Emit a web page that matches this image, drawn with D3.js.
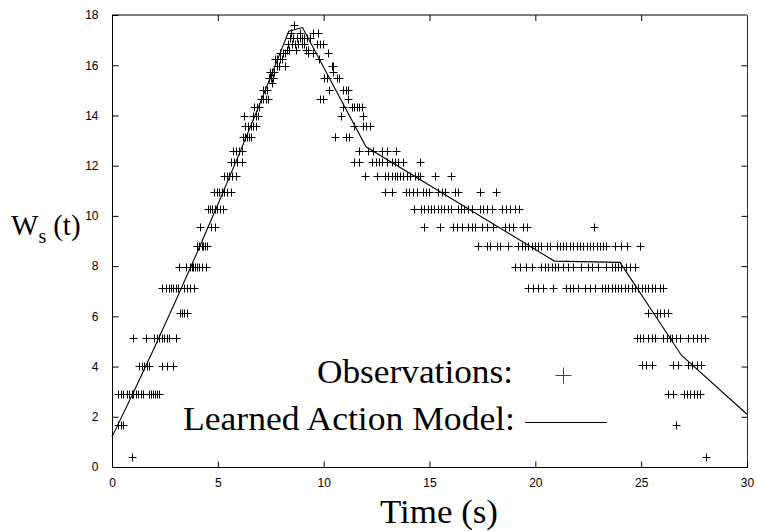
<!DOCTYPE html>
<html>
<head>
<meta charset="utf-8">
<script src="https://cdn.jsdelivr.net/npm/d3@7"></script>
<style>
  html, body { margin: 0; padding: 0; background: #fff; }
  svg { display: block; }
</style>
</head>
<body>
<svg id="chart" width="757" height="531"></svg>
<script>
// Axis ticks
const xTicks = [0, 5, 10, 15, 20, 25, 30];
const yTicks = [0, 2, 4, 6, 8, 10, 12, 14, 16, 18];

// Learned action model (piecewise-linear) : time (s) and W_s(t)
const modelTime = [0, 1, 2, 3, 4, 5, 6, 7, 8, 8.35, 9.0, 12.0, 20.9, 24.0, 26.9, 30];
const modelWs   = [1.2, 2.95, 4.75, 6.6, 8.5, 10.45, 12.45, 14.5, 16.6, 17.35, 17.5, 12.75, 8.2, 8.15, 4.45, 2.1];

// Observations, grouped by observed W_s level; obsTimes[i] holds the times at obsLevels[i]
const obsLevels = [
  0.38, 1.67, 2.9, 4.03, 5.12, 6.15, 7.12, 7.98, 8.8, 9.57, 10.27, 10.94, 11.59,
  12.13, 12.6, 13.15, 13.58, 13.98, 14.34, 14.67, 15.0, 15.28, 15.5, 15.72, 15.95,
  16.24, 16.47, 16.62, 16.85, 17.07, 17.3, 17.6,
  0.38, 1.67, 2.9, 4.05, 5.12, 6.15, 7.12, 7.98, 8.8, 9.57
];
const obsTimes = [
  [0.96],
  [0.30, 0.41, 0.54],
  [0.30, 0.41, 0.54, 0.72, 0.82, 0.93, 1.01, 1.12, 1.24, 1.35, 1.48, 1.76, 1.83, 1.95, 2.03, 2.14, 2.24],
  [1.29, 1.40, 1.51, 1.64, 1.76, 2.35, 2.58, 2.90],
  [0.98, 1.59, 1.98, 2.11, 2.24, 2.35, 2.46, 2.58, 2.71, 3.02],
  [3.21, 3.32, 3.42, 3.53],
  [2.38, 2.54, 2.69, 2.79, 2.90, 3.02, 3.13, 3.40, 3.56, 3.68, 3.89],
  [3.17, 3.50, 3.68, 3.76, 3.84, 3.92, 4.00, 4.13, 4.27, 4.44],
  [4.00, 4.13, 4.24, 4.31, 4.39, 4.50],
  [4.16, 4.68, 4.87],
  [4.52, 4.63, 4.74, 4.87, 4.98, 5.10, 5.26,
   14.28, 14.60, 14.75, 14.91, 15.07, 15.23, 15.38, 15.54, 15.70, 15.86, 16.01, 16.33, 16.49, 16.64,
   16.80, 16.99, 17.38, 17.54, 17.70, 17.94, 18.41, 18.61, 18.80, 19.04, 19.24],
  [4.83, 4.94, 5.07, 5.18, 5.29, 5.42, 5.61,
   12.90, 13.21, 13.89, 14.05, 14.20, 14.39, 14.68, 14.83, 14.99, 15.42, 15.57, 15.73, 16.20, 16.36, 17.38, 18.14],
  [5.29, 5.42, 5.54, 5.65, 5.86,
   11.95, 12.50, 12.90, 13.05, 13.21, 13.37, 13.48, 13.60, 13.76, 13.92, 14.08, 14.31, 14.47, 14.55, 15.26, 16.01],
  [5.62, 5.78, 5.89, 6.12,
   11.43, 11.68, 12.27, 12.47, 12.63, 12.74, 12.97, 13.21, 13.37, 13.53, 13.76, 14.55],
  [5.73, 5.86, 6.01, 6.12, 11.68, 12.11, 12.35, 12.74, 13.01, 13.40],
  [6.17, 6.28, 6.36, 6.47, 6.55, 10.53, 11.05, 11.21],
  [6.28, 6.44, 6.55, 6.68, 6.79, 11.45, 11.84, 12.00, 12.19],
  [6.24, 6.68, 6.80, 6.91, 10.80, 11.87],
  [6.71, 6.83, 6.96, 10.93, 11.32, 11.45, 11.56, 11.68, 11.79],
  [7.04, 7.15, 7.26, 7.35, 9.83, 9.95, 11.13],
  [7.12, 7.23, 7.34, 10.27, 10.90, 11.05, 11.16],
  [7.57],
  [7.43, 7.51, 7.62, 10.02, 10.14, 10.61, 10.74],
  [7.46, 7.54, 7.65, 10.42],
  [7.78, 7.89, 8.17, 10.38, 10.46],
  [7.70, 7.81, 7.94, 8.05, 9.79],
  [7.94, 8.06, 8.17, 9.27, 9.51, 10.22],
  [8.25, 8.36, 8.69, 9.16, 9.27],
  [8.33, 8.49, 8.64, 8.80, 8.96, 9.07, 9.67, 9.83, 9.98],
  [8.41, 8.57, 8.72, 8.88, 8.98, 9.09, 9.20, 9.35],
  [8.46, 8.88, 9.51, 9.75],
  [8.60],
  [28.06],
  [26.64],
  [26.28, 26.51, 27.02, 27.17, 27.33, 27.49, 27.65, 27.77],
  [25.02, 25.25, 25.49, 26.51, 26.75, 27.22, 27.38, 27.62, 27.85],
  [24.78, 24.94, 25.10, 25.33, 25.49, 25.65, 26.04, 26.20, 26.36, 26.48, 26.64, 26.83,
   27.22, 27.46, 27.62, 27.85, 28.01],
  [25.33, 25.76, 25.91, 26.07, 26.28],
  [19.66, 19.90, 20.14, 20.37, 20.84, 21.47, 21.63, 21.79, 22.03, 22.34, 22.58, 22.81,
   23.13, 23.29, 23.44, 23.60, 23.76, 23.92, 24.07, 24.23, 24.39, 24.55, 24.70, 24.86,
   25.02, 25.18, 25.33, 25.49, 25.65, 25.88, 26.04],
  [19.04, 19.27, 19.55, 19.82, 20.29, 20.45, 20.61, 20.77, 20.92, 21.08, 21.32, 21.55,
   21.79, 22.18, 22.50, 22.66, 22.97, 23.36, 23.60, 23.76, 23.92, 24.07, 24.28, 24.47, 24.70],
  [17.27, 17.70, 17.86, 18.17, 18.33, 18.72, 19.19, 19.35, 19.51, 19.67, 19.82, 19.98,
   20.14, 20.29, 20.53, 20.69, 21.00, 21.16, 21.32, 21.47, 21.63, 21.79, 21.95, 22.10,
   22.26, 22.42, 22.58, 22.73, 22.89, 23.05, 23.21, 23.36, 23.76, 24.07, 24.31, 24.94],
  [14.75, 15.49, 16.09, 16.28, 16.52, 16.83, 16.99, 17.15, 17.46, 17.70, 18.01, 18.56,
   18.77, 18.96, 19.43, 19.62, 22.77]
];

const legendLabels = ["Observations:", "Learned Action Model:"];

const svg = d3.select("#chart");
const plotLeft = 112, plotRight = 747, plotTop = 15, plotBottom = 467;

const x = d3.scaleLinear().domain([0, 30]).range([plotLeft, plotRight]);
const y = d3.scaleLinear().domain([0, 18]).range([plotBottom, plotTop]);

const tickFont = "'Liberation Sans', Arial, Helvetica, sans-serif";
const serif = "'Liberation Serif', 'Times New Roman', Times, serif";
const tickLen = 6;

// Frame
const frame = svg.append("g").attr("fill", "none").attr("stroke", "#000").attr("stroke-width", 1);
frame.append("line").attr("x1", plotLeft).attr("x2", plotRight).attr("y1", plotTop).attr("y2", plotTop)
  .attr("stroke", "#555").attr("stroke-width", 1.4);
frame.append("line").attr("x1", plotLeft).attr("x2", plotRight).attr("y1", plotBottom + 0.5).attr("y2", plotBottom + 0.5);
frame.append("line").attr("x1", plotLeft + 0.5).attr("x2", plotLeft + 0.5).attr("y1", plotTop).attr("y2", plotBottom + 1);
frame.append("line").attr("x1", plotRight + 0.5).attr("x2", plotRight + 0.5).attr("y1", plotTop).attr("y2", plotBottom + 1)
  .attr("stroke", "#333");

// Bottom axis (ticks point inward, mirrored on top)
const xAxis = d3.axisBottom(x).tickValues(xTicks).tickFormat(d3.format("d"))
  .tickSizeInner(-tickLen).tickSizeOuter(0).tickPadding(11);
const gx = svg.append("g").attr("transform", `translate(0,${plotBottom + 0.5})`).call(xAxis);
gx.select(".domain").remove();
gx.selectAll("text").attr("font-family", tickFont).attr("font-size", 12).attr("fill", "#000");

const gxTop = svg.append("g").attr("transform", `translate(0,${plotTop})`)
  .call(d3.axisTop(x).tickValues(xTicks.slice(1, -1)).tickSizeInner(-tickLen).tickSizeOuter(0).tickFormat(""));
gxTop.select(".domain").remove();

// Left axis with labels, right axis mirrored ticks
const yAxis = d3.axisLeft(y).tickValues(yTicks).tickFormat(d3.format("d"))
  .tickSizeInner(-tickLen).tickSizeOuter(0).tickPadding(14);
const gy = svg.append("g").attr("transform", `translate(${plotLeft + 0.5},0)`).call(yAxis);
gy.select(".domain").remove();
gy.selectAll("text").attr("font-family", tickFont).attr("font-size", 12).attr("fill", "#000");

const gyR = svg.append("g").attr("transform", `translate(${plotRight + 0.5},0)`)
  .call(d3.axisRight(y).tickValues(yTicks.slice(1, -1)).tickSizeInner(-tickLen).tickSizeOuter(0).tickFormat(""));
gyR.select(".domain").remove();

// Observations as "+" markers
const pts = [];
obsLevels.forEach((lv, i) => obsTimes[i].forEach(t => pts.push([t, lv])));
const plus = (cx, cy, r) => `M${cx - r},${cy}H${cx + r}M${cx},${cy - r}V${cy + r}`;
svg.append("path")
  .attr("d", pts.map(p => plus(Math.round(x(p[0])) + 0.5, Math.round(y(p[1])) + 0.5, 4)).join(""))
  .attr("fill", "none").attr("stroke", "#000").attr("stroke-width", 1);

// Model line
const line = d3.line().x((d, i) => x(modelTime[i])).y(d => y(d));
svg.append("path").datum(modelWs).attr("d", line)
  .attr("fill", "none").attr("stroke", "#000").attr("stroke-width", 1.1);

// Legend
svg.append("text").attr("x", 317).attr("y", 383)
  .attr("font-family", serif).attr("font-size", 34)
  .attr("textLength", 196).attr("lengthAdjust", "spacingAndGlyphs").text(legendLabels[0]);
svg.append("path").attr("d", plus(563.5, 375.5, 8)).attr("stroke", "#444").attr("stroke-width", 1).attr("fill", "none");
svg.append("text").attr("x", 183).attr("y", 430)
  .attr("font-family", serif).attr("font-size", 34)
  .attr("textLength", 332).attr("lengthAdjust", "spacingAndGlyphs").text(legendLabels[1]);
svg.append("line").attr("x1", 525).attr("x2", 607).attr("y1", 422.5).attr("y2", 422.5)
  .attr("stroke", "#000").attr("stroke-width", 1);

// Axis titles
svg.append("text").attr("x", 380).attr("y", 523)
  .attr("font-family", serif).attr("font-size", 33)
  .attr("textLength", 118).attr("lengthAdjust", "spacingAndGlyphs").text("Time (s)");

const yl = svg.append("text").attr("x", 11).attr("y", 235).attr("font-family", serif).attr("font-size", 29);
yl.append("tspan").text("W");
yl.append("tspan").attr("font-size", 20).attr("dy", 8).text("s");
yl.append("tspan").attr("dy", -8).attr("dx", 7).text("(t)");
</script>
</body>
</html>
